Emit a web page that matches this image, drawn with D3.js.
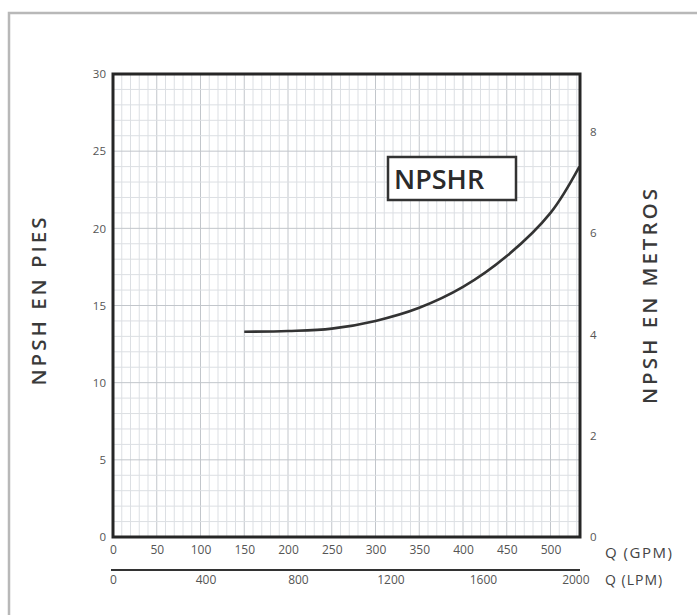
<!DOCTYPE html>
<html>
<head>
<meta charset="utf-8">
<script src="https://cdn.jsdelivr.net/npm/d3@7"></script>
<style>
  html, body { margin: 0; padding: 0; background: #fff; }
  svg { display: block; }
  text { font-family: "Open Sans", "Noto Sans", sans-serif; }
</style>
</head>
<body>
<svg id="chart" width="697" height="615"></svg>
<script>
// NPSHR curve, flow in GPM against required head in feet
const flowGpm = [150, 200, 250, 300, 350, 400, 450, 500, 533];
const npshFt  = [13.3, 13.35, 13.5, 14.0, 14.85, 16.2, 18.2, 21.0, 24.0];

const gpmTicks = [0, 50, 100, 150, 200, 250, 300, 350, 400, 450, 500];
const lpmTicks = [0, 400, 800, 1200, 1600, 2000];
const ftTicks = [0, 5, 10, 15, 20, 25, 30];
const mTicks = [0, 2, 4, 6, 8];

const GPM_TO_LPM = 3.785;
const FT_PER_M = 3.281;

const svg = d3.select("#chart");
const plotL = 113, plotR = 580, plotT = 74, plotB = 537;

const x = d3.scaleLinear().domain([0, 533.7]).range([plotL, plotR]);
const y = d3.scaleLinear().domain([0, 30]).range([plotB, plotT]);
const yM = d3.scaleLinear().domain([0, 30 / FT_PER_M]).range([plotB, plotT]);
const xL = d3.scaleLinear().domain([0, 533.7 * GPM_TO_LPM]).range([plotL, plotR]);

// outer frame of the sheet
svg.append("rect")
  .attr("x", 9).attr("y", 13).attr("width", 720).attr("height", 640)
  .attr("fill", "none").attr("stroke", "#b8b8b8").attr("stroke-width", 2.5);

// grid: every 10 GPM and every 1 ft, stronger each 50 GPM / 5 ft
const g = svg.append("g");
g.selectAll(".vx").data(d3.range(10, 534, 10)).join("line")
  .attr("x1", d => x(d)).attr("x2", d => x(d))
  .attr("y1", plotT).attr("y2", plotB)
  .attr("stroke", d => d % 50 === 0 ? "#c2c6cb" : "#dcdfe3")
  .attr("stroke-width", 1);
g.selectAll(".hy").data(d3.range(1, 30, 1)).join("line")
  .attr("x1", plotL).attr("x2", plotR)
  .attr("y1", d => y(d)).attr("y2", d => y(d))
  .attr("stroke", d => d % 5 === 0 ? "#c2c6cb" : "#dcdfe3")
  .attr("stroke-width", 1);

// curve
const pts = flowGpm.map((q, i) => [q, npshFt[i]]);
svg.append("path")
  .datum(pts)
  .attr("fill", "none")
  .attr("stroke", "#333")
  .attr("stroke-width", 2.6)
  .attr("d", d3.line().x(d => x(d[0])).y(d => y(d[1])).curve(d3.curveCatmullRom.alpha(0.5)));

// plot frame
svg.append("rect")
  .attr("x", plotL).attr("y", plotT).attr("width", plotR - plotL).attr("height", plotB - plotT)
  .attr("fill", "none").attr("stroke", "#262626").attr("stroke-width", 3);

// left axis labels (feet)
const axL = svg.append("g").attr("transform", `translate(${plotL},0)`)
  .call(d3.axisLeft(y).tickValues(ftTicks).tickSize(0).tickPadding(7));
axL.select(".domain").remove();
axL.selectAll("text").attr("font-size", 11.5).attr("fill", "#555");

// right axis labels (metres)
const axR = svg.append("g").attr("transform", `translate(${plotR},0)`)
  .call(d3.axisRight(yM).tickValues(mTicks).tickSize(0).tickPadding(10));
axR.select(".domain").remove();
axR.selectAll("text").attr("font-size", 11.5).attr("fill", "#555");

// bottom axis labels (GPM)
const axB = svg.append("g").attr("transform", `translate(0,${plotB})`)
  .call(d3.axisBottom(x).tickValues(gpmTicks).tickSize(0).tickPadding(8));
axB.select(".domain").remove();
axB.selectAll("text").attr("font-size", 12).attr("fill", "#555");

// second flow scale (LPM)
const axLpm = svg.append("g").attr("transform", "translate(0,570)")
  .call(d3.axisBottom(xL).tickValues(lpmTicks).tickFormat(d3.format("d")).tickSize(0).tickPadding(5));
axLpm.select(".domain").remove();
axLpm.selectAll("text").attr("font-size", 12).attr("fill", "#555");
svg.append("line")
  .attr("x1", plotL - 2).attr("x2", plotR).attr("y1", 570).attr("y2", 570)
  .attr("stroke", "#333").attr("stroke-width", 2);

// unit captions
svg.append("text").attr("x", 605).attr("y", 558)
  .attr("font-size", 15).attr("fill", "#444").attr("letter-spacing", 1.5)
  .text("Q (GPM)");
svg.append("text").attr("x", 605).attr("y", 585)
  .attr("font-size", 14).attr("fill", "#444").attr("letter-spacing", 1)
  .text("Q (LPM)");

// axis titles
svg.append("text")
  .attr("transform", "translate(46,300) rotate(-90)")
  .attr("text-anchor", "middle").attr("font-size", 20.5).attr("font-weight", 600)
  .attr("fill", "#3a3a3a").attr("letter-spacing", 3)
  .text("NPSH EN PIES");
svg.append("text")
  .attr("transform", "translate(657,295) rotate(-90)")
  .attr("text-anchor", "middle").attr("font-size", 20.5).attr("font-weight", 600)
  .attr("fill", "#3a3a3a").attr("letter-spacing", 3)
  .text("NPSH EN METROS");

// curve tag
svg.append("rect")
  .attr("x", 388).attr("y", 157).attr("width", 128).attr("height", 43)
  .attr("fill", "#fff").attr("stroke", "#333").attr("stroke-width", 2.5);
svg.append("text")
  .attr("x", 394).attr("y", 189)
  .attr("font-size", 27).attr("font-weight", 600).attr("fill", "#2a2a2a")
  .text("NPSHR");
</script>
</body>
</html>
